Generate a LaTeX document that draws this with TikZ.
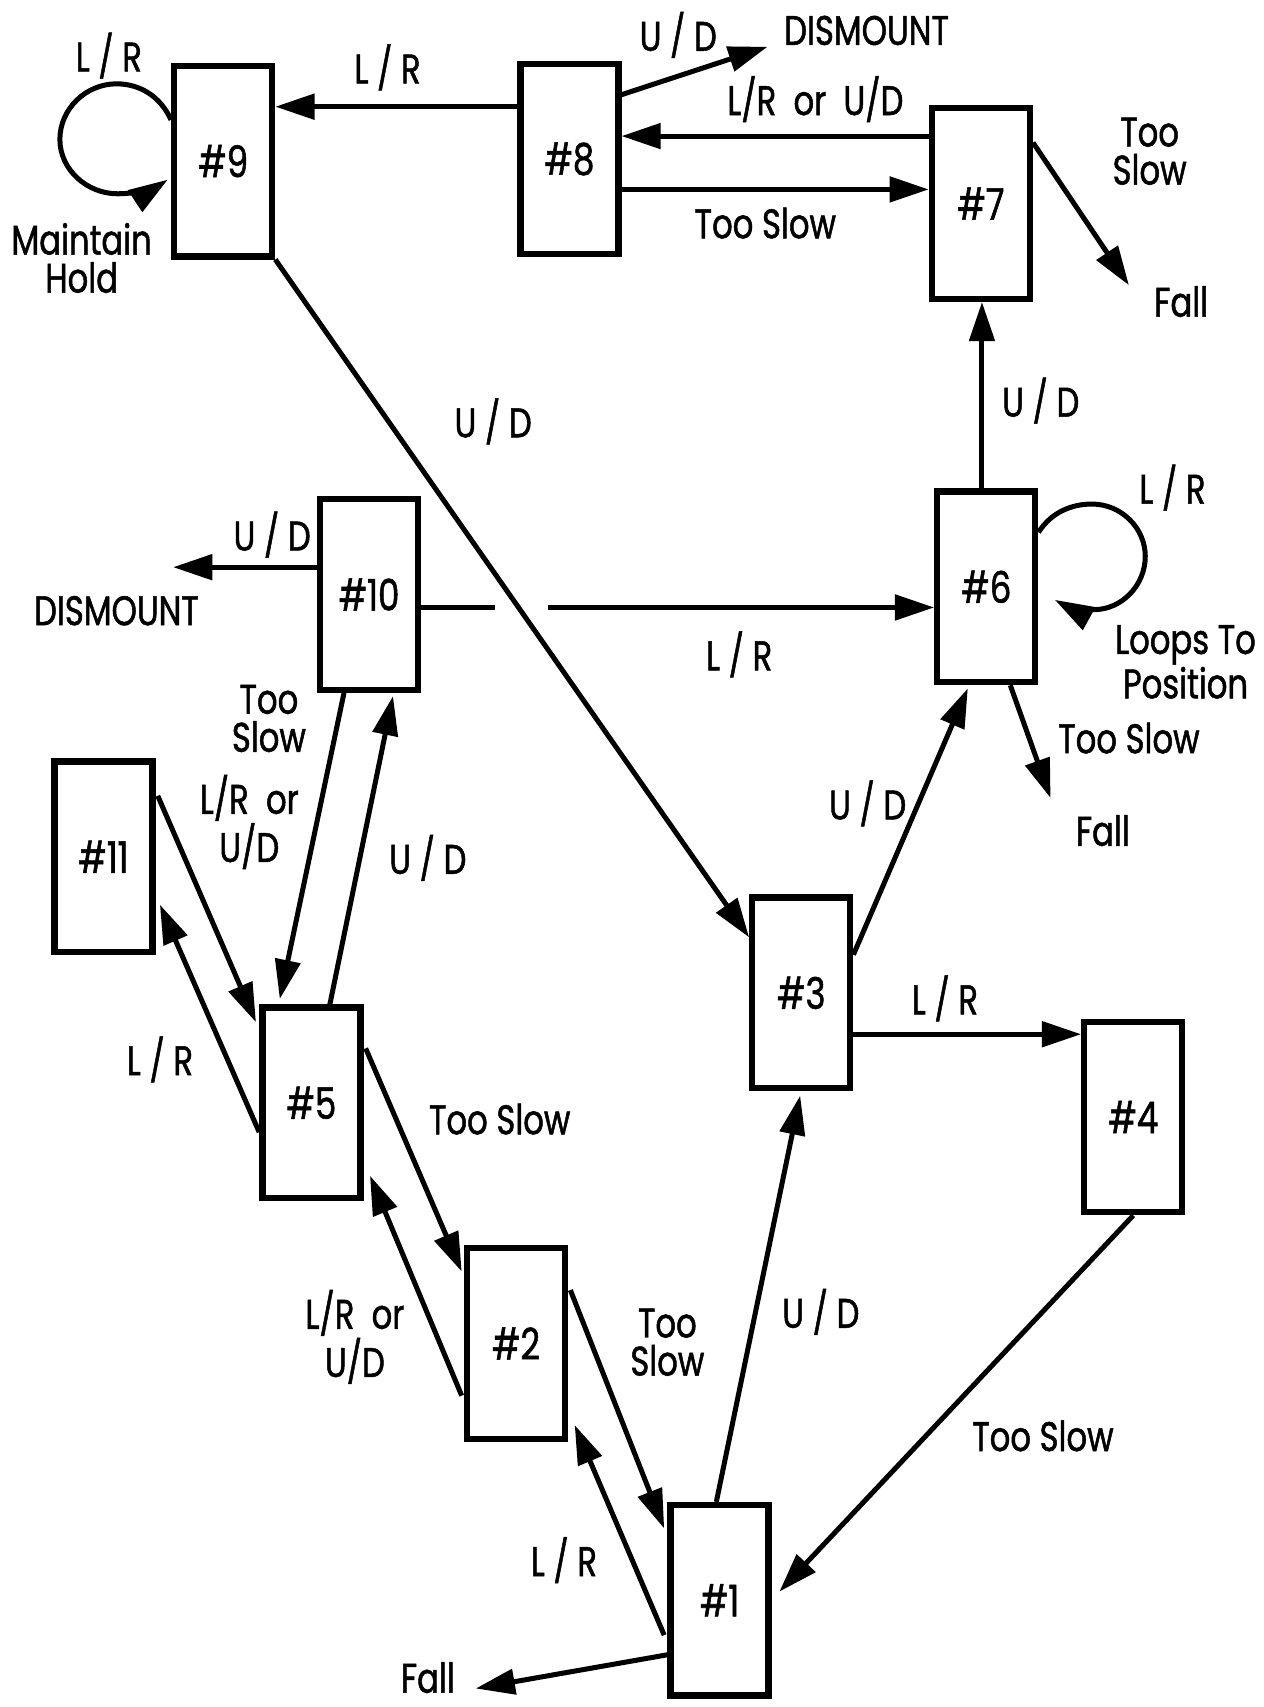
\documentclass[tikz,border=0pt]{standalone}
\usepackage{fontspec}
\setmainfont{Poppins}[FakeStretch=0.78,FakeBold=1.2]
\usetikzlibrary{arrows.meta,calc}
\tikzset{
  box/.style={draw, line width=2.9pt, minimum width=45pt, minimum height=87.5pt, inner sep=0pt, font=\fontsize{20}{22}\selectfont},
  lbl/.style={inner sep=0pt, align=center, font=\fontsize{19}{17.5}\selectfont},
  arr/.style={line width=2.3pt, -{Triangle[length=18pt,width=11.5pt]}},
  ln/.style={line width=2.3pt},
}
\begin{document}
\begin{tikzpicture}[x=0.5pt,y=-0.5pt]
\useasboundingbox (0,0) rectangle (1161,1568);
\fill[white] (0,0) rectangle (1161,1568);
% boxes
\node[box] (n9) at (205,148) {\#9};
\node[box] (n8) at (523,146) {\#8};
\node[box] (n7) at (901,187) {\#7};
\node[box] (n10) at (339,546) {\#10};
\node[box] (n6) at (906,539) {\#6};
\node[box] (n11) at (95,787) {\#11};
\node[box] (n5) at (286,1013) {\#5};
\node[box] (n3) at (736,912) {\#3};
\node[box] (n4) at (1041,1026) {\#4};
\node[box] (n2) at (474,1234) {\#2};
\node[box] (n1) at (661,1470) {\#1};
% free ends
\coordinate (dis8) at (705,43);
\coordinate (fall7) at (1037,262);
\coordinate (dis10) at (159,521);
\coordinate (gapA) at (455,558);
\coordinate (gapB) at (503,558);
\coordinate (fall6) at (965,733);
\coordinate (fall1) at (437,1551);
% connectors
\draw[arr] ($(n8.west)+(0,-48)$) -- ($(n9.east)+(0,-50)$);
\draw[arr] ($(n8.east)+(0,-59)$) -- (dis8);
\draw[arr] ($(n7.west)+(0,-62)$) -- ($(n8.east)+(0,-21)$);
\draw[arr] ($(n8.east)+(0,28)$) -- ($(n7.west)+(0,-13)$);
\draw[arr] ($(n7.east)+(0,-56)$) -- (fall7);
\draw[arr] ($(n6.north)+(-4,0)$) -- ($(n7.south)+(1,0)$);
% loop on 6
\draw[arr] ($(n6.east)+(0,-50)$) .. controls (966,470) and (985,463) .. (1003,463)
  .. controls (1030,463) and (1052,485) .. (1052,511)
  .. controls (1052,538) and (1030,560) .. (1005,560)
  .. controls (990,560) and (978,556) .. ($(n6.east)+(15,12)$);
% loop on 9
\draw[arr] ($(n9.west)+(0,-38)$) .. controls (147,88) and (128,77) .. (107,77)
  .. controls (79,77) and (55,100) .. (55,128)
  .. controls (55,156) and (80,178) .. (108,178)
  .. controls (128,178) and (145,171) .. ($(n9.west)+(-3,17)$);
\draw[arr] ($(n10.west)+(0,-25)$) -- (dis10);
\draw[ln] ($(n10.east)+(0,12)$) -- (gapA);
\draw[arr] (gapB) -- ($(n6.west)+(0,19)$);
\draw[arr] (n9.south east) -- ($(n3.west)+(0,-51)$);
\draw[arr] ($(n6.south)+(22,0)$) -- (fall6);
\draw[arr] ($(n3.east)+(0,-35)$) -- ($(n6.south)+(-17,3)$);
\draw[arr] ($(n10.south)+(-23,0)$) -- ($(n5.north)+(-29,-5)$);
\draw[arr] ($(n5.north)+(17,0)$) -- ($(n10.south)+(22,3)$);
\draw[arr] ($(n11.east)+(2,-56)$) -- ($(n5.west)+(-3,-74)$);
\draw[arr] ($(n5.west)+(0,27)$) -- ($(n11.east)+(4,44)$);
\draw[arr] ($(n5.east)+(2,-50)$) -- ($(n2.west)+(-2,-66)$);
\draw[arr] ($(n2.west)+(-2,48)$) -- ($(n5.east)+(6,67)$);
\draw[arr] ($(n2.east)+(2,-49)$) -- ($(n1.west)+(-3,-66)$);
\draw[arr] ($(n1.west)+(-3,32)$) -- ($(n2.east)+(6,75)$);
\draw[arr] ($(n1.west)+(0,50)$) -- (fall1);
\draw[arr] ($(n1.north)+(-3,0)$) -- ($(n3.south)+(-1,4)$);
\draw[arr] ($(n3.east)+(0,38)$) -- ($(n4.west)+(0,-76)$);
\draw[arr] (n4.south) -- ($(n1.east)+(7,-8)$);
% labels
\node[lbl] (t1) at (100,51) {L / R};
\node[lbl] (t2) at (356,62) {L / R};
\node[lbl] (t3) at (75,237) {Maintain\\Hold};
\node[lbl] (t4) at (623,32) {U / D};
\node[lbl] (t5) at (796,28) {DISMOUNT};
\node[lbl] (t6) at (749,91) {L/R\ \ or\ \ U/D};
\node[lbl] (t7) at (703,205) {Too Slow};
\node[lbl] (t8) at (1056,139) {Too\\Slow};
\node[lbl] (t9) at (1085,277) {Fall};
\node[lbl] (t10) at (453,387) {U / D};
\node[lbl] (t11) at (956,368) {U / D};
\node[lbl] (t12) at (1077,448) {L / R};
\node[lbl] (t13) at (250,491) {U / D};
\node[lbl] (t14) at (107,561) {DISMOUNT};
\node[lbl] (t15) at (679,601) {L / R};
\node[lbl] (t16) at (1089,608) {Loops To\\Position};
\node[lbl] (t17) at (247,660) {Too\\Slow};
\node[lbl] (t18) at (1037,678) {Too Slow};
\node[lbl] (t19) at (1013,763) {Fall};
\node[lbl] (t20) at (797,738) {U / D};
\node[lbl] (t21) at (229,755) {L/R\ \ or\\U/D};
\node[lbl] (t22) at (393,788) {U / D};
\node[lbl] (t23) at (868,917) {L / R};
\node[lbl] (t24) at (147,973) {L / R};
\node[lbl] (t25) at (459,1028) {Too Slow};
\node[lbl] (t26) at (326,1228) {L/R\ \ or\\U/D};
\node[lbl] (t27) at (613,1233) {Too\\Slow};
\node[lbl] (t28) at (754,1205) {U / D};
\node[lbl] (t29) at (958,1319) {Too Slow};
\node[lbl] (t30) at (518,1433) {L / R};
\node[lbl] (t31) at (393,1541) {Fall};
\end{tikzpicture}
\end{document}
